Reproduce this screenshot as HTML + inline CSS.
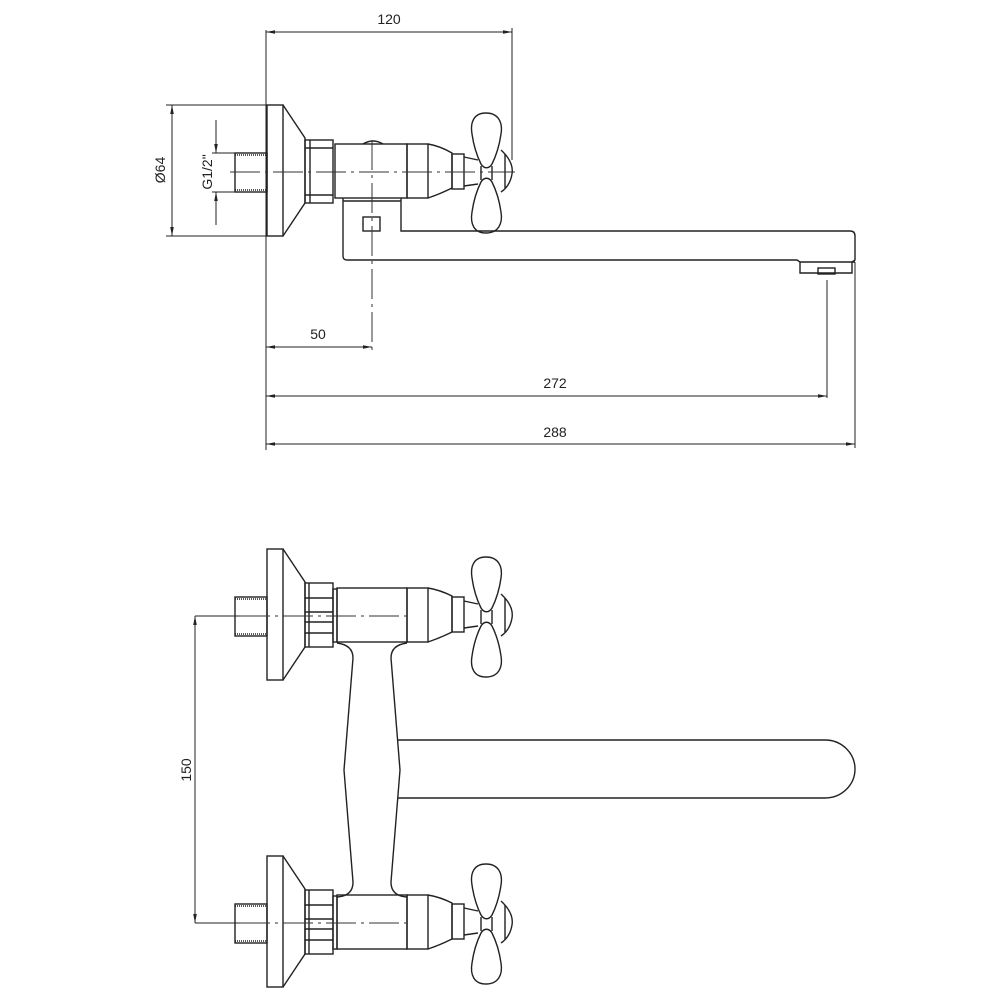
<!DOCTYPE html>
<html><head><meta charset="utf-8"><style>body{margin:0;background:#fff}svg{display:block}</style></head>
<body>
<svg width="1000" height="1000" viewBox="0 0 1000 1000" xmlns="http://www.w3.org/2000/svg">
<defs>
<marker id="a" viewBox="0 0 10 10" refX="10" refY="5" markerWidth="9" markerHeight="9" orient="auto-start-reverse" markerUnits="userSpaceOnUse"><path d="M0,3 L10,5 L0,7 z" fill="#222"/></marker>
<g id="petals" fill="none" stroke="#222" stroke-width="1.4">
  <path d="M486,-59 C474,-59 470,-50 472,-38 C474,-24 478,-14 481,-8 C484,-3 489,-3 492,-8 C495,-14 499,-24 501,-38 C503,-50 498,-59 486,-59 Z"/>
  <path d="M486,61 C474,61 470,52 472,40 C474,26 478,16 481,10 C484,5 489,5 492,10 C495,16 499,26 501,40 C503,52 498,61 486,61 Z"/>
  <line x1="481" y1="-6" x2="481" y2="8"/><line x1="492" y1="-6" x2="492" y2="8"/>
  <path d="M501,-22 Q514,-10 512,2 Q510,14 501,20"/>
  <line x1="505" y1="-18" x2="505" y2="16"/>
</g>
<g id="unitTop" fill="none" stroke="#222" stroke-width="1.4">
  <rect x="235" y="-19" width="32" height="39"/>
  <line x1="235" y1="-17" x2="267" y2="-17" stroke-dasharray="1 1"/>
  <line x1="235" y1="18" x2="267" y2="18" stroke-dasharray="1 1"/>
  <rect x="267" y="-67" width="16" height="131"/>
  <path d="M283,-67 L305,-34 L305,31 L283,64"/>
  <rect x="305" y="-33" width="28" height="64"/>
  <line x1="309" y1="-33" x2="309" y2="31"/>
  <line x1="305" y1="-18" x2="333" y2="-18"/>
  <line x1="305" y1="-4" x2="333" y2="-4"/>
  <line x1="305" y1="6" x2="333" y2="6"/>
  <line x1="305" y1="17" x2="333" y2="17"/>
  <rect x="333" y="-27" width="4" height="53"/>
  <rect x="337" y="-28" width="70" height="54"/>
  <rect x="407" y="-28" width="21" height="54"/>
  <path d="M428,-28 Q440,-26 452,-20 L452,16 Q440,22 428,26"/>
  <rect x="452" y="-19" width="12" height="35"/>
  <path d="M464,-15 L478,-12 M464,12 L478,10"/>
  <use href="#petals"/>
</g>
</defs>

<g fill="none" stroke="#222" stroke-width="1.4">
  <line x1="266" y1="30" x2="266" y2="450" stroke-width="1"/>
  <rect x="235" y="153" width="32" height="39"/>
  <line x1="235" y1="155" x2="267" y2="155" stroke-dasharray="1 1"/>
  <line x1="235" y1="190" x2="267" y2="190" stroke-dasharray="1 1"/>
  <rect x="267" y="105" width="16" height="131"/>
  <path d="M283,105 L305,138 L305,203 L283,236"/>
  <rect x="305" y="140" width="28" height="63"/>
  <line x1="310" y1="140" x2="310" y2="203"/>
  <line x1="305" y1="148" x2="333" y2="148"/><line x1="305" y1="195" x2="333" y2="195"/>
  <rect x="335" y="144" width="72" height="54"/>
  <path d="M363,144 Q373,138 383,144"/>
  <rect x="407" y="144" width="21" height="54"/>
  <path d="M428,144 Q440,146 452,153 L452,188 Q440,194 428,198"/>
  <rect x="452" y="154" width="12" height="35"/>
  <path d="M464,157 L478,160 M464,186 L478,184"/>
  <use href="#petals" transform="translate(0,172)"/>
  <path d="M343,198 L343,256 Q343,260 347,260 L797,260 L800,262 L800,273 L852,273 L852,262 L855,260 L855,236 Q855,231 850,231 L401,231 L401,198"/>
  <line x1="343" y1="201" x2="401" y2="201"/>
  <line x1="800" y1="262" x2="855" y2="262"/>
  <rect x="363" y="217" width="17" height="14"/>
  <rect x="818" y="268" width="17" height="6"/>
</g>
<g stroke="#333" stroke-width="1" fill="none" stroke-dasharray="30 5 3 5">
  <line x1="230" y1="172" x2="515" y2="172"/>
  <line x1="372" y1="140" x2="372" y2="350"/>
</g>
<g stroke="#222" stroke-width="1" fill="none">
  <line x1="512" y1="28" x2="512" y2="160"/>
  <line x1="266" y1="32" x2="512" y2="32" marker-start="url(#a)" marker-end="url(#a)"/>
  <line x1="266" y1="347" x2="372" y2="347" marker-start="url(#a)" marker-end="url(#a)"/>
  <line x1="827" y1="280" x2="827" y2="398"/>
  <line x1="266" y1="396" x2="827" y2="396" marker-start="url(#a)" marker-end="url(#a)"/>
  <line x1="855" y1="262" x2="855" y2="448"/>
  <line x1="266" y1="444" x2="855" y2="444" marker-start="url(#a)" marker-end="url(#a)"/>
  <line x1="166" y1="105" x2="266" y2="105"/>
  <line x1="166" y1="236" x2="266" y2="236"/>
  <line x1="172" y1="105" x2="172" y2="236" marker-start="url(#a)" marker-end="url(#a)"/>
  <line x1="212" y1="153" x2="235" y2="153"/>
  <line x1="212" y1="192" x2="235" y2="192"/>
  <line x1="216" y1="120" x2="216" y2="153" marker-end="url(#a)"/>
  <line x1="216" y1="225" x2="216" y2="192" marker-end="url(#a)"/>
</g>
<g font-family="'Liberation Sans Narrow','Liberation Sans',sans-serif" font-size="14" fill="#222" text-anchor="middle">
  <text x="389" y="24">120</text>
  <text x="318" y="339">50</text>
  <text x="555" y="388">272</text>
  <text x="555" y="437">288</text>
  <text transform="translate(165,170) rotate(-90)">Ø64</text>
  <text transform="translate(212,172) rotate(-90)">G1/2"</text>
  <text transform="translate(191,770) rotate(-90)">150</text>
</g>

<use href="#unitTop" transform="translate(0,616)"/>
<use href="#unitTop" transform="translate(0,923)"/>
<g fill="none" stroke="#222" stroke-width="1.4">
  <path d="M337,643 Q353,645 353,658 L344,770 L353,882 Q353,896 337,897"/>
  <path d="M407,643 Q391,645 391,658 L400,770 L391,882 Q391,896 407,897"/>
  <path d="M398,740 L825,740 A30,29 0 0 1 825,798 L398,798"/>
</g>
<g stroke="#333" stroke-width="1" fill="none" stroke-dasharray="30 5 3 5">
  <line x1="240" y1="616" x2="410" y2="616"/>
  <line x1="240" y1="923" x2="410" y2="923"/>
</g>
<g stroke="#222" stroke-width="1" fill="none">
  <line x1="195" y1="616" x2="240" y2="616"/>
  <line x1="195" y1="923" x2="240" y2="923"/>
  <line x1="195" y1="616" x2="195" y2="923" marker-start="url(#a)" marker-end="url(#a)"/>
</g>
</svg>
</body></html>
